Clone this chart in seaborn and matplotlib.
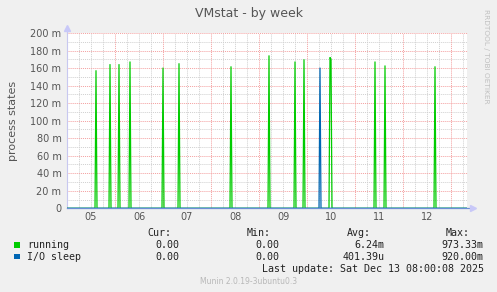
import matplotlib
matplotlib.use("Agg")
import matplotlib.pyplot as plt
from matplotlib.patches import Rectangle
import seaborn as sns
import pandas as pd

# ---- data (hours since Dec 05 00:00, values in milli process states) ----
running_hours = [14.5, 21.5, 26, 31.5, 48, 56, 82, 101, 114, 118.5, 131.5, 132, 154, 159, 184]
running_vals = [157, 164, 164, 167, 160, 165, 161.5, 174, 167, 169.5, 172, 170, 167, 162.5, 161.5]
iosleep_hours = [126.5]
iosleep_vals = [160]

day_labels = ["05", "06", "07", "08", "09", "10", "11", "12"]
ytick_vals = [0, 20, 40, 60, 80, 100, 120, 140, 160, 180, 200]
ytick_labels = ["0", "20 m", "40 m", "60 m", "80 m", "100 m", "120 m", "140 m", "160 m", "180 m", "200 m"]

series_names = ["running", "I/O sleep"]
series_colors = ["#00CC00", "#0066B3"]
legend_cur = ["0.00", "0.00"]
legend_min = ["0.00", "0.00"]
legend_avg = ["6.24m", "401.39u"]
legend_max = ["973.33m", "920.00m"]

T_START, T_END = 0.0, 200.0
STEP = 0.5


def build(name, hours, vals):
    pts = dict(zip(hours, vals))
    for h in list(hours):
        for n in (h - STEP, h + STEP):
            if n not in pts:
                pts[n] = 0.0
    pts.setdefault(T_START, 0.0)
    pts.setdefault(T_END, 0.0)
    return pd.DataFrame({"hour": list(pts.keys()), "value": list(pts.values()), "series": name})


df = pd.concat([build("running", running_hours, running_vals),
                build("I/O sleep", iosleep_hours, iosleep_vals)], ignore_index=True)

W, H = 497, 292
BG = "#F0F0F0"
fig = plt.figure(figsize=(W / 100, H / 100), dpi=100, facecolor=BG)
L, R, T, B = 67, 467, 33, 208.3
ax = fig.add_axes([L / W, 1 - B / H, (R - L) / W, (B - T) / H])
ax.set_facecolor("white")

ax.set_xlim(T_START, T_END)
ax.set_ylim(0, 200)

# grid
minor_x = [h for h in range(0, 201, 6)]
for h in minor_x:
    if h % 24 != 0:
        ax.axvline(h, color="#d0d0d0", lw=0.7, ls=(0, (1, 1)), zorder=1)
for v in range(10, 200, 20):
    ax.axhline(v, color="#d0d0d0", lw=0.7, ls=(0, (1, 1)), zorder=1)
for h in range(24, 200, 24):
    ax.axvline(h, color="#f4a0a0", lw=0.7, ls=(0, (1, 1)), zorder=1.5)
for v in range(20, 201, 20):
    ax.axhline(v, color="#f4a0a0", lw=0.7, ls=(0, (1, 1)), zorder=1.5, clip_on=False)

sns.lineplot(data=df, x="hour", y="value", hue="series", hue_order=series_names,
             palette=dict(zip(series_names, series_colors)), estimator=None,
             sort=True, legend=False, lw=0.9, ax=ax, zorder=3)

# axis lines and arrows
for s in ["top", "right", "bottom"]:
    ax.spines[s].set_visible(False)
ax.spines["left"].set_color("#c8c8f0")
ax.spines["left"].set_linewidth(0.8)
ax.plot([T_START, 202], [0, 0], color="#6a8fd6", lw=0.9, clip_on=False, zorder=4)
ax.plot([203.2], [0], marker=">", ms=4.5, color="#c8c8f8", clip_on=False, zorder=4)
ax.plot([T_START, T_START], [200, 204], color="#c8c8f0", lw=0.8, clip_on=False)
ax.plot([T_START], [205.5], marker="^", ms=4.5, color="#c8c8f8", clip_on=False, zorder=4)

ax.set_yticks(ytick_vals)
ax.set_yticklabels(ytick_labels)
ax.set_xticks([12 + 24 * i for i in range(len(day_labels))])
ax.set_xticklabels(day_labels)
ax.tick_params(axis="both", length=0, labelsize=7, labelcolor="#555555")
ax.tick_params(axis="y", pad=4)
ax.tick_params(axis="x", pad=3)
ax.set_xlabel("")
ax.set_ylabel("process states", fontsize=8, color="#555555", labelpad=8)
ax.yaxis.set_label_coords(-0.123, 0.5)

fig.text(249 / W, 1 - 13 / H, "VMstat - by week", ha="center", va="center",
         fontsize=9, color="#555555")
fig.text(486 / W, 1 - 56 / H, "RRDTOOL / TOBI OETIKER", rotation=270, ha="center",
         va="center", fontsize=5.3, color="#c0c0c0")

mono = "DejaVu Sans Mono"
fs = 7.2
tc = "#222222"
fig.text(171 / W, 1 - 233 / H, "Cur:", ha="right", va="center", family=mono, fontsize=fs, color=tc)
fig.text(271 / W, 1 - 233 / H, "Min:", ha="right", va="center", family=mono, fontsize=fs, color=tc)
fig.text(370.5 / W, 1 - 233 / H, "Avg:", ha="right", va="center", family=mono, fontsize=fs, color=tc)
fig.text(469.5 / W, 1 - 233 / H, "Max:", ha="right", va="center", family=mono, fontsize=fs, color=tc)

rows_y = [245, 256.7]
for i, name in enumerate(series_names):
    y = rows_y[i]
    fig.add_artist(Rectangle((14 / W, 1 - (y + 2.7) / H), 5.5 / W, 5.5 / H,
                             transform=fig.transFigure, facecolor=series_colors[i],
                             edgecolor="none"))
    fig.text(27 / W, 1 - y / H, name, ha="left", va="center", family=mono, fontsize=fs, color=tc)
    fig.text(179.5 / W, 1 - y / H, legend_cur[i], ha="right", va="center", family=mono, fontsize=fs, color=tc)
    fig.text(279.5 / W, 1 - y / H, legend_min[i], ha="right", va="center", family=mono, fontsize=fs, color=tc)
    fig.text(384.5 / W, 1 - y / H, legend_avg[i], ha="right", va="center", family=mono, fontsize=fs, color=tc)
    fig.text(483.5 / W, 1 - y / H, legend_max[i], ha="right", va="center", family=mono, fontsize=fs, color=tc)

fig.text(483.5 / W, 1 - 269 / H, "Last update: Sat Dec 13 08:00:08 2025", ha="right",
         va="center", family=mono, fontsize=fs, color=tc)
fig.text(248.5 / W, 1 - 281.5 / H, "Munin 2.0.19-3ubuntu0.3", ha="center", va="center",
         fontsize=5.5, color="#b8b8b8")

fig.savefig("out.png", dpi=100, facecolor=BG)
